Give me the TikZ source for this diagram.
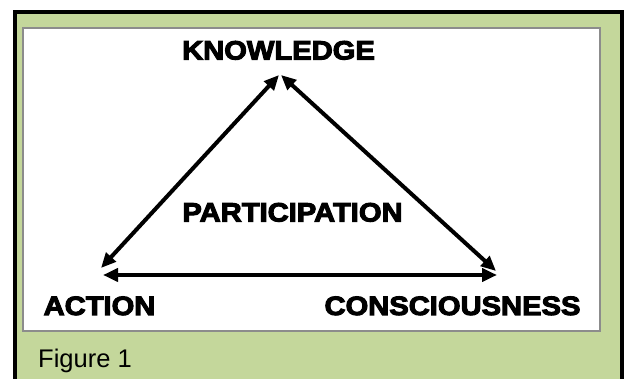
\documentclass[tikz,border=0pt]{standalone}
\usepackage{fontspec}
\usetikzlibrary{arrows.meta}
\newfontfamily\lblfont[FakeStretch=1.1,FakeBold=4]{Liberation Sans Bold}
\newfontfamily\capfont{Liberation Sans}
\definecolor{panelgreen}{RGB}{196,215,155}
\definecolor{boxgray}{RGB}{140,140,140}
\tikzset{
  lbl/.style={inner sep=0pt, anchor=base, font=\lblfont\fontsize{26.5}{30}\selectfont},
  dbl/.style={line width=4pt, {Triangle[length=15pt,width=13pt]}-{Triangle[length=15pt,width=13pt]}}
}
\begin{document}
\begin{tikzpicture}[x=1pt,y=-1pt]
\useasboundingbox (0,0) rectangle (624,379);
\fill[white] (0,0) rectangle (624,379);
\fill[black] (13,10) rectangle (630,390);
\fill[panelgreen] (17,14) rectangle (620,390);
\draw[boxgray, line width=2pt, fill=white] (23,28) rectangle (600,331);

\node[lbl] (know) at (278.5,59.5) {KNOWLEDGE};
\node[lbl] (part) at (292.5,221.5) {PARTICIPATION};
\node[lbl] (act) at (99.5,315) {ACTION};
\node[lbl] (cons) at (452.5,315) {CONSCIOUSNESS};
\node[inner sep=0pt, anchor=base west, font=\capfont\fontsize{25.5}{30}\selectfont] (fig) at (38,367) {Figure 1};

\coordinate (topL) at (279,75);
\coordinate (topR) at (281,75);
\coordinate (leftD) at (101,268);
\coordinate (rightD) at (496,271);
\coordinate (leftH) at (103,275);
\coordinate (rightH) at (497,275);

\draw[dbl] (topL) -- (leftD);
\draw[dbl] (topR) -- (rightD);
\draw[dbl] (leftH) -- (rightH);
\end{tikzpicture}
\end{document}
